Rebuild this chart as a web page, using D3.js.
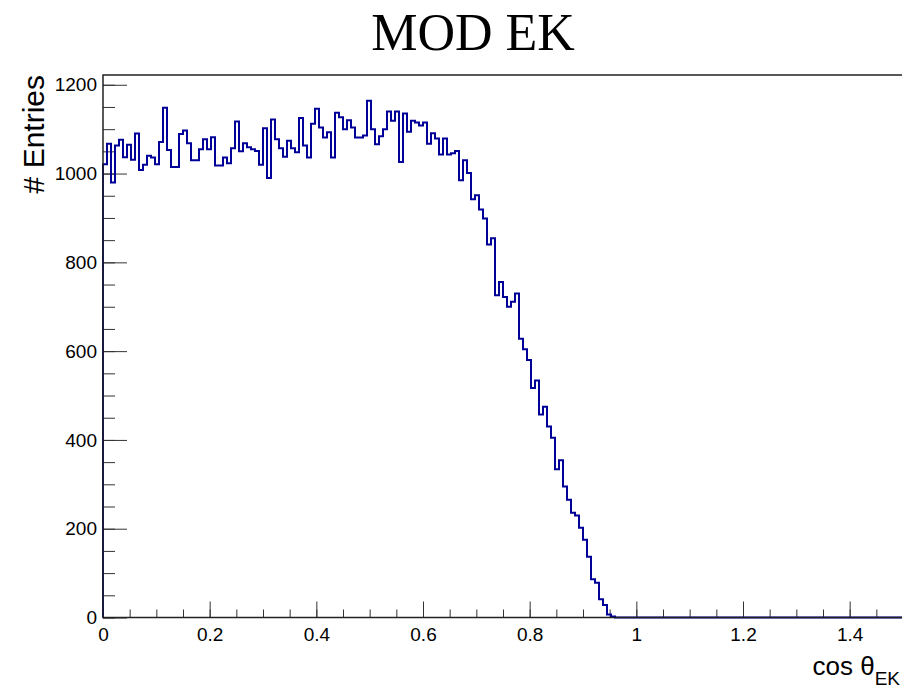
<!DOCTYPE html>
<html>
<head>
<meta charset="utf-8">
<script src="https://cdn.jsdelivr.net/npm/d3@7/dist/d3.min.js"></script>
<style>
  body { margin: 0; background: #fff; }
  svg { display: block; }
</style>
</head>
<body>
<div id="chart"></div>
<script>
// ------------------------------------------------------------------------ //
// DATA
// ------------------------------------------------------------------------ //

// histogram range and contents (200 bins between 0 and 1.5)
var xRange = [0, 1.5];
var counts = [
  1021, 1067,  980, 1063, 1076, 1037, 1065, 1031, 1090, 1008,
  1020, 1040, 1036, 1021, 1071, 1148, 1053, 1015, 1015, 1089,
  1097, 1068, 1030, 1030, 1055, 1077, 1055, 1082, 1018, 1018,
  1036, 1023, 1057, 1117, 1050, 1068, 1059, 1055, 1051, 1020,
  1102,  990, 1122, 1077, 1057, 1038, 1074, 1057, 1048, 1125,
  1063, 1036, 1112, 1146, 1104, 1081, 1093, 1036, 1137, 1127,
  1100, 1120, 1104, 1081, 1081, 1086, 1164, 1100, 1066, 1084,
  1100, 1140, 1119, 1140, 1026, 1135, 1094, 1119, 1115, 1108,
  1115, 1067, 1091, 1079, 1043, 1079, 1043, 1046, 1051,  985,
  1030, 1001,  942,  951,  919,  899,  840,  854,  726,  756,
   722,  700,  711,  730,  628,  604,  580,  517,  534,  457,
   475,  430,  405,  334,  354,  295,  265,  236,  230,  202,
   175,  137,   86,   78,   41,   28,    7,    2,    0,    0,
     0,    0,    0,    0,    0,    0,    0,    0,    0,    0,
     0,    0,    0,    0,    0,    0,    0,    0,    0,    0,
     0,    0,    0,    0,    0,    0,    0,    0,    0,    0,
     0,    0,    0,    0,    0,    0,    0,    0,    0,    0,
     0,    0,    0,    0,    0,    0,    0,    0,    0,    0,
     0,    0,    0,    0,    0,    0,    0,    0,    0,    0,
     0,    0,    0,    0,    0,    0,    0,    0,    0,    0
];

// axis ticks
var xTickValues = [0, 0.2, 0.4, 0.6, 0.8, 1, 1.2, 1.4];
var yTickValues = [0, 200, 400, 600, 800, 1000, 1200];
var yMax = 1222;

// texts
var titleText = "MOD EK";
var yTitle = "# Entries";

// ------------------------------------------------------------------------ //
// SVG AREA
// ------------------------------------------------------------------------ //

var totalWidth = 902, totalHeight = 689;
var frame = {left: 103, right: 903, top: 75, bottom: 617.5};

var svg = d3.select("#chart")
  .append("svg")
    .attr("width", totalWidth)
    .attr("height", totalHeight)
    .style("font-family", "'Liberation Sans', Arial, Helvetica, sans-serif");

// ------------------------------------------------------------------------ //
// AXIS AND SCALES
// ------------------------------------------------------------------------ //

var x = d3.scaleLinear()
  .domain(xRange)
  .range([frame.left, frame.right]);

var y = d3.scaleLinear()
  .domain([0, yMax])
  .range([frame.bottom, frame.top]);

var fmt = function(d) { return String(Math.round(d * 10) / 10) };

// minor ticks (x every 0.05, y every 50)
svg.append("g")
  .attr("transform", "translate(0," + frame.bottom + ")")
  .call(d3.axisBottom(x).tickValues(d3.range(0, 1.5001, 0.05)).tickSize(-8).tickFormat(""))
  .call(function(g) { g.select(".domain").remove() })

svg.append("g")
  .attr("transform", "translate(" + frame.left + ",0)")
  .call(d3.axisLeft(y).tickValues(d3.range(0, 1201, 50)).tickSize(-12).tickFormat(""))
  .call(function(g) { g.select(".domain").remove() })

// major ticks with labels
var xAxis = svg.append("g")
  .attr("transform", "translate(0," + frame.bottom + ")")
  .call(d3.axisBottom(x).tickValues(xTickValues).tickSize(-16).tickPadding(10).tickFormat(fmt))
xAxis.select(".domain").remove()

var yAxis = svg.append("g")
  .attr("transform", "translate(" + frame.left + ",0)")
  .call(d3.axisLeft(y).tickValues(yTickValues).tickSize(-24).tickPadding(6).tickFormat(d3.format("d")))
yAxis.select(".domain").remove()

svg.selectAll(".tick line")
  .attr("stroke", "#333")
  .attr("stroke-width", 1)
svg.selectAll(".tick text")
  .attr("fill", "#000")
  .style("font-family", "'Liberation Sans', Arial, Helvetica, sans-serif")
xAxis.selectAll(".tick text").style("font-size", "19px")
yAxis.selectAll(".tick text").style("font-size", "19px")

// ------------------------------------------------------------------------ //
// SHAPES
// ------------------------------------------------------------------------ //

var binWidth = (xRange[1] - xRange[0]) / counts.length;
var points = [[xRange[0], 0]];
counts.forEach(function(c, i) { points.push([xRange[0] + i * binWidth, c]) });
points.push([xRange[1], counts[counts.length - 1]]);
points.push([xRange[1], 0]);

var line = d3.line()
  .x(function(d) { return x(d[0]) })
  .y(function(d) { return y(d[1]) })
  .curve(d3.curveStepAfter);

svg.append("path")
  .datum(points)
  .attr("d", line)
  .attr("fill", "none")
  .attr("stroke", "#000099")
  .attr("stroke-width", 2)
  .attr("stroke-linejoin", "miter");

// frame
svg.append("rect")
  .attr("x", frame.left)
  .attr("y", frame.top)
  .attr("width", frame.right - frame.left)
  .attr("height", frame.bottom - frame.top)
  .attr("fill", "none")
  .attr("stroke", "#222")
  .attr("stroke-width", 1.5);

// ------------------------------------------------------------------------ //
// TITLES
// ------------------------------------------------------------------------ //

svg.append("text")
  .attr("x", 473)
  .attr("y", 50)
  .attr("text-anchor", "middle")
  .style("font-family", "'Liberation Serif', 'Times New Roman', serif")
  .style("font-size", "52px")
  .text(titleText);

svg.append("text")
  .attr("transform", "translate(44," + frame.top + ")rotate(-90)")
  .attr("text-anchor", "end")
  .style("font-size", "30px")
  .text(yTitle);

var xt = svg.append("text")
  .attr("x", 900)
  .attr("y", 675)
  .attr("text-anchor", "end")
  .style("font-size", "26px");
xt.append("tspan").text("cos \u03b8");
xt.append("tspan").attr("dy", 10).style("font-size", "19px").text("EK");
</script>
</body>
</html>
